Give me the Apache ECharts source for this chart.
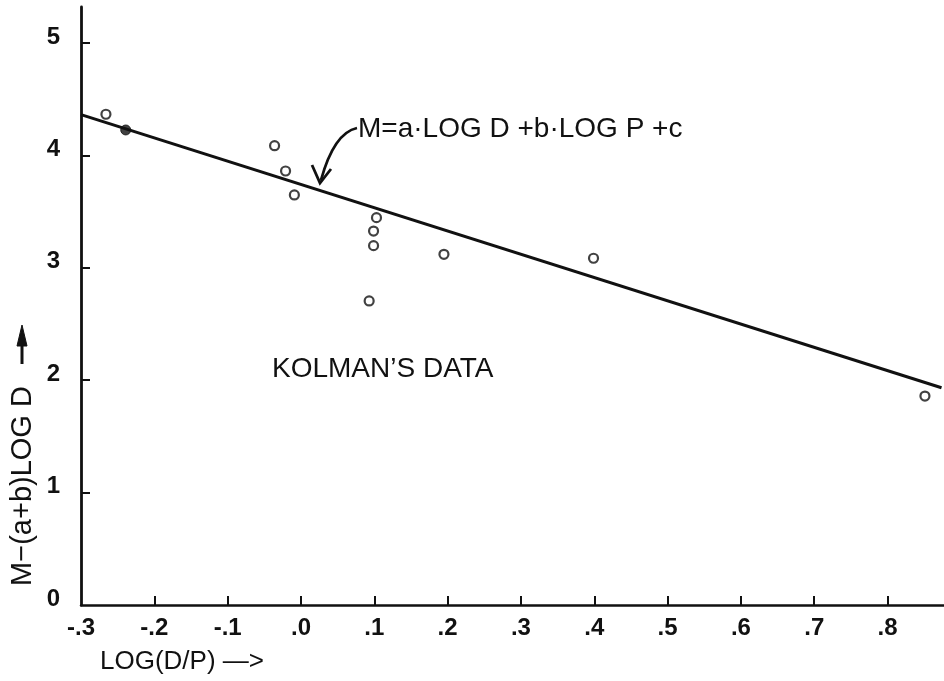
<!DOCTYPE html>
<html>
<head>
<meta charset="utf-8">
<script src="https://cdn.jsdelivr.net/npm/echarts@6/dist/echarts.min.js"></script>
<style>
  html, body { margin: 0; padding: 0; background: #ffffff; }
  #chart { width: 944px; height: 681px; }
</style>
</head>
<body>
<div id="chart"></div>
<script>
// ---- data ----
const openX = [-0.266, -0.036, -0.021, -0.009, 0.103, 0.099, 0.099, 0.093, 0.195, 0.399, 0.851];
const openY = [4.366, 4.086, 3.861, 3.648, 3.446, 3.327, 3.197, 2.705, 3.120, 3.085, 1.859];
const filledX = [-0.239];
const filledY = [4.226];
const fitX = [-0.3, 0.8736];
const fitY = [4.363, 1.933];
const xTickValues = [-0.2, -0.1, 0.0, 0.1, 0.2, 0.3, 0.4, 0.5, 0.6, 0.7, 0.8];
const xLabelValues = [-0.3, -0.2, -0.1, 0.0, 0.1, 0.2, 0.3, 0.4, 0.5, 0.6, 0.7, 0.8];
const xLabelTexts = ['-.3', '-.2', '-.1', '.0', '.1', '.2', '.3', '.4', '.5', '.6', '.7', '.8'];
const yTickValues = [1, 2, 3, 4, 5];
const yLabelValues = [0, 1, 2, 3, 4, 5];
const yLabelTexts = ['0', '1', '2', '3', '4', '5'];
const xName = 'LOG(D/P) —>';
const yName = 'M−(a+b)LOG D';
const noteText = 'KOLMAN’S DATA';
const eqText = 'M=a·LOG D +b·LOG P +c';

const zip = (xs, ys) => xs.map((x, i) => [x, ys[i]]);
const INK = '#111111';
const FONT = '"Liberation Sans", Arial, sans-serif';

const chart = echarts.init(document.getElementById('chart'), null, { renderer: 'canvas' });
chart.setOption({
  animation: false,
  backgroundColor: '#ffffff',
  grid: { left: 81, right: 0, top: 7, bottom: 76, containLabel: false },
  xAxis: {
    type: 'value', min: -0.3, max: 0.877,
    axisLine: { show: true, onZero: false, lineStyle: { color: INK, width: 2.5 } },
    axisTick: { show: true, inside: true, length: 9, customValues: xTickValues, lineStyle: { color: INK, width: 2 } },
    axisLabel: {
      customValues: xLabelValues, margin: 11, color: INK,
      fontFamily: FONT, fontSize: 24, fontWeight: 'bold',
      formatter: v => xLabelTexts[xLabelValues.findIndex(t => Math.abs(t - v) < 1e-6)] || ''
    },
    splitLine: { show: false }
  },
  yAxis: {
    type: 'value', min: 0, max: 5.32,
    axisLine: { show: true, onZero: false, lineStyle: { color: INK, width: 2.8 } },
    axisTick: { show: true, inside: true, length: 9, customValues: yTickValues, lineStyle: { color: INK, width: 2 } },
    axisLabel: {
      customValues: yLabelValues, margin: 21, color: INK,
      fontFamily: FONT, fontSize: 24, fontWeight: 'bold',
      verticalAlign: 'bottom', lineHeight: 12,
      formatter: v => yLabelTexts[yLabelValues.findIndex(t => Math.abs(t - v) < 1e-6)] || ''
    },
    splitLine: { show: false }
  },
  series: [
    {
      type: 'line', data: zip(fitX, fitY), symbol: 'none', silent: true,
      lineStyle: { color: INK, width: 3 }, z: 2
    },
    {
      type: 'scatter', data: zip(openX, openY), symbol: 'circle', symbolSize: 9,
      itemStyle: { color: '#ffffff', borderColor: INK, borderWidth: 2.2 }, z: 3
    },
    {
      type: 'scatter', data: zip(filledX, filledY), symbol: 'circle', symbolSize: 10,
      itemStyle: { color: INK, borderColor: INK, borderWidth: 1 }, z: 3
    }
  ],
  graphic: [
    {
      type: 'text', left: 100, top: 649,
      style: { text: xName, fill: INK, font: '26px ' + FONT }
    },
    {
      type: 'text', x: 23, y: 486, rotation: Math.PI / 2,
      style: { text: yName, fill: INK, font: '29px ' + FONT, align: 'center', verticalAlign: 'middle' }
    },
    {
      type: 'line',
      shape: { x1: 22, y1: 364, x2: 22, y2: 340 },
      style: { stroke: INK, lineWidth: 3 }
    },
    {
      type: 'polygon',
      shape: { points: [[22, 325], [27, 346], [17, 346]] },
      style: { fill: INK, stroke: INK, lineWidth: 1 }
    },
    {
      type: 'text', x: 272, y: 369,
      style: { text: noteText, fill: INK, font: '28px ' + FONT, align: 'left', verticalAlign: 'middle' }
    },
    {
      type: 'text', x: 358, y: 129,
      style: { text: eqText, fill: INK, font: '28px ' + FONT, align: 'left', verticalAlign: 'middle' }
    },
    {
      type: 'bezierCurve',
      shape: { x1: 357, y1: 128, x2: 321, y2: 180, cpx1: 334, cpy1: 133 },
      style: { stroke: INK, lineWidth: 2.8, fill: null }
    },
    {
      type: 'polyline',
      shape: { points: [[312, 165], [320, 183], [331, 169]] },
      style: { stroke: INK, lineWidth: 2.8, fill: null, lineJoin: 'miter' }
    }
  ]
});
</script>
</body>
</html>
